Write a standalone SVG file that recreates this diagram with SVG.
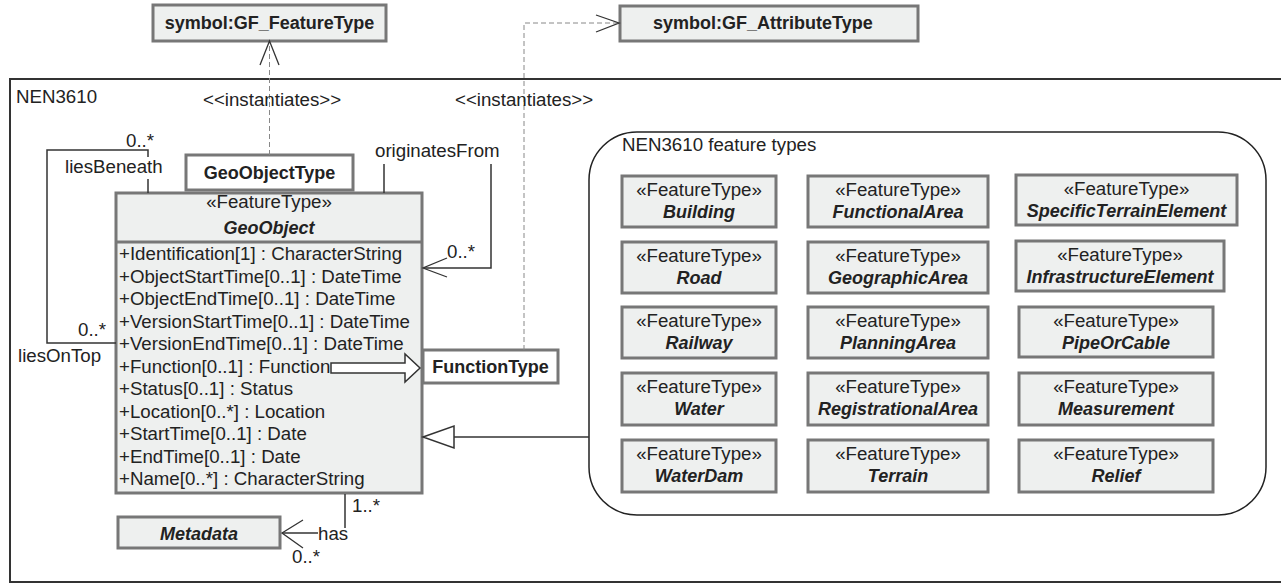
<svg xmlns="http://www.w3.org/2000/svg" width="1281" height="585" viewBox="0 0 1281 585">
  <style>
    text { font-family: "Liberation Sans", Arial, sans-serif; font-size: 18.7px; fill: #222; }
    .b { font-weight: bold; font-size: 18px; }
    .bi { font-weight: bold; font-style: italic; font-size: 18px; }
    .c { text-anchor: middle; }
    .box { fill: #eef0ef; stroke: #777; stroke-width: 3; }
    .wbox { fill: #ffffff; stroke: #777; stroke-width: 3; }
    .line { fill: none; stroke: #333; stroke-width: 1.5; }
    .dash { fill: none; stroke: #888; stroke-width: 1; stroke-dasharray: 5 3; }
    .open { fill: none; stroke: #333; stroke-width: 1.3; }
  </style>

  <rect width="1281" height="585" fill="#ffffff"/>

  <!-- package frame -->
  <g id="pkg-nen3610">
    <rect x="10" y="79" width="1290" height="503" fill="none" stroke="#333" stroke-width="2"/>
    <text x="16" y="103">NEN3610</text>
  </g>

  <!-- external metaclasses -->
  <g id="gf-featuretype">
    <rect class="box" x="153" y="5" width="233" height="36"/>
    <text class="b c" x="269.5" y="29">symbol:GF_FeatureType</text>
  </g>
  <g id="gf-attributetype">
    <rect class="box" x="620" y="6" width="298" height="35"/>
    <text class="b" x="653" y="29">symbol:GF_AttributeType</text>
  </g>

  <g id="geoobjecttype">
    <rect class="wbox" x="186" y="155" width="167" height="35"/>
    <text class="b c" x="269.5" y="179">GeoObjectType</text>
  </g>

  <g id="geoobject">
    <rect class="box" x="116" y="193" width="306" height="300"/>
    <line x1="116" y1="242" x2="422" y2="242" stroke="#777" stroke-width="3"/>
    <text class="c" x="269" y="208">«FeatureType»</text>
    <text class="bi c" x="269" y="234">GeoObject</text>
    <text x="119" y="260">+Identification[1] : CharacterString</text>
    <text x="119" y="282.5">+ObjectStartTime[0..1] : DateTime</text>
    <text x="119" y="305">+ObjectEndTime[0..1] : DateTime</text>
    <text x="119" y="327.5">+VersionStartTime[0..1] : DateTime</text>
    <text x="119" y="350">+VersionEndTime[0..1] : DateTime</text>
    <text x="119" y="372.5">+Function[0..1] : Function</text>
    <text x="119" y="395">+Status[0..1] : Status</text>
    <text x="119" y="417.5">+Location[0..*] : Location</text>
    <text x="119" y="440">+StartTime[0..1] : Date</text>
    <text x="119" y="462.5">+EndTime[0..1] : Date</text>
    <text x="119" y="485">+Name[0..*] : CharacterString</text>
  </g>

  <g id="functiontype">
    <rect class="wbox" x="423" y="350" width="135" height="33"/>
    <text class="b c" x="490.5" y="373">FunctionType</text>
  </g>

  <g id="metadata">
    <rect class="box" x="118" y="517" width="162" height="31"/>
    <text class="bi c" x="199" y="540">Metadata</text>
  </g>

  <!-- feature type package -->
  <g id="pkg-featuretypes">
    <rect x="589" y="132" width="677" height="383" rx="48" ry="48" fill="none" stroke="#222" stroke-width="1.5"/>
    <text x="622" y="151">NEN3610 feature types</text>
  </g>

  <g id="ft-building">
    <rect class="box" x="622" y="176" width="154" height="51"/>
    <text class="c" x="699" y="196">«FeatureType»</text>
    <text class="bi c" x="699" y="218">Building</text>
  </g>
  <g id="ft-functionalarea">
    <rect class="box" x="808" y="176" width="180" height="51"/>
    <text class="c" x="898" y="196">«FeatureType»</text>
    <text class="bi c" x="898" y="218">FunctionalArea</text>
  </g>
  <g id="ft-specificterrainelement">
    <rect class="box" x="1016" y="175" width="221" height="50"/>
    <text class="c" x="1126.5" y="195">«FeatureType»</text>
    <text class="bi c" x="1126.5" y="217">SpecificTerrainElement</text>
  </g>

  <g id="ft-road">
    <rect class="box" x="622" y="242" width="154" height="51"/>
    <text class="c" x="699" y="262">«FeatureType»</text>
    <text class="bi c" x="699" y="284">Road</text>
  </g>
  <g id="ft-geographicarea">
    <rect class="box" x="808" y="242" width="180" height="51"/>
    <text class="c" x="898" y="262">«FeatureType»</text>
    <text class="bi c" x="898" y="284">GeographicArea</text>
  </g>
  <g id="ft-infrastructureelement">
    <rect class="box" x="1016" y="241" width="208" height="50"/>
    <text class="c" x="1120" y="261">«FeatureType»</text>
    <text class="bi c" x="1120" y="283">InfrastructureElement</text>
  </g>

  <g id="ft-railway">
    <rect class="box" x="622" y="307" width="154" height="51"/>
    <text class="c" x="699" y="327">«FeatureType»</text>
    <text class="bi c" x="699" y="349">Railway</text>
  </g>
  <g id="ft-planningarea">
    <rect class="box" x="808" y="307" width="180" height="51"/>
    <text class="c" x="898" y="327">«FeatureType»</text>
    <text class="bi c" x="898" y="349">PlanningArea</text>
  </g>
  <g id="ft-pipeorcable">
    <rect class="box" x="1019" y="307" width="194" height="50"/>
    <text class="c" x="1116" y="327">«FeatureType»</text>
    <text class="bi c" x="1116" y="349">PipeOrCable</text>
  </g>

  <g id="ft-water">
    <rect class="box" x="622" y="373" width="154" height="52"/>
    <text class="c" x="699" y="393">«FeatureType»</text>
    <text class="bi c" x="699" y="415">Water</text>
  </g>
  <g id="ft-registrationalarea">
    <rect class="box" x="808" y="373" width="180" height="52"/>
    <text class="c" x="898" y="393">«FeatureType»</text>
    <text class="bi c" x="898" y="415">RegistrationalArea</text>
  </g>
  <g id="ft-measurement">
    <rect class="box" x="1019" y="373" width="194" height="52"/>
    <text class="c" x="1116" y="393">«FeatureType»</text>
    <text class="bi c" x="1116" y="415">Measurement</text>
  </g>

  <g id="ft-waterdam">
    <rect class="box" x="622" y="440" width="154" height="52"/>
    <text class="c" x="699" y="460">«FeatureType»</text>
    <text class="bi c" x="699" y="482">WaterDam</text>
  </g>
  <g id="ft-terrain">
    <rect class="box" x="808" y="440" width="180" height="52"/>
    <text class="c" x="898" y="460">«FeatureType»</text>
    <text class="bi c" x="898" y="482">Terrain</text>
  </g>
  <g id="ft-relief">
    <rect class="box" x="1019" y="440" width="194" height="52"/>
    <text class="c" x="1116" y="460">«FeatureType»</text>
    <text class="bi c" x="1116" y="482">Relief</text>
  </g>

  <!-- connectors -->
  <g id="connectors">
    <!-- instantiates: GeoObjectType -> GF_FeatureType -->
    <line class="dash" x1="269.5" y1="155" x2="269.5" y2="41"/>
    <polyline class="open" points="260,65 269.5,41 279,65"/>
    <text x="203" y="106">&lt;&lt;instantiates&gt;&gt;</text>

    <!-- instantiates: FunctionType -> GF_AttributeType -->
    <polyline class="dash" points="524,350 524,23 619,23"/>
    <polyline class="open" points="596,15 619,23 596,32"/>
    <text x="455" y="106">&lt;&lt;instantiates&gt;&gt;</text>

    <!-- liesBeneath / liesOnTop self association -->
    <polyline class="line" points="116,343 47,343 47,150 148,150 148,157"/>
    <line class="line" x1="148" y1="179" x2="148" y2="193"/>
    <text x="126" y="147">0..*</text>
    <text x="65" y="173">liesBeneath</text>
    <text x="78" y="336">0..*</text>
    <text x="18" y="362">liesOnTop</text>

    <!-- originatesFrom -->
    <line class="line" x1="384" y1="164" x2="384" y2="193"/>
    <polyline class="line" points="491,164 491,268 424,268"/>
    <polyline class="open" points="447,258 423,268 447,277"/>
    <text x="375" y="157">originatesFrom</text>
    <text x="447" y="258">0..*</text>

    <!-- Function attribute -> FunctionType -->
    <path d="M331,363 H405 V354 L420,368 L405,382 V373 H331 Z" fill="#ffffff" stroke="#333" stroke-width="1.5"/>

    <!-- generalization: feature types -> GeoObject -->
    <line class="line" x1="454" y1="437" x2="589" y2="437"/>
    <polygon points="423,437 454,426 454,448" fill="#ffffff" stroke="#333" stroke-width="1.5"/>

    <!-- has: GeoObject -> Metadata -->
    <line class="line" x1="345" y1="494" x2="345" y2="528"/>
    <line class="line" x1="318" y1="533" x2="282" y2="533"/>
    <polyline class="open" points="303,520 282,533 303,548"/>
    <text x="352" y="512">1..*</text>
    <text x="318" y="540">has</text>
    <text x="292" y="563">0..*</text>
  </g>
</svg>
